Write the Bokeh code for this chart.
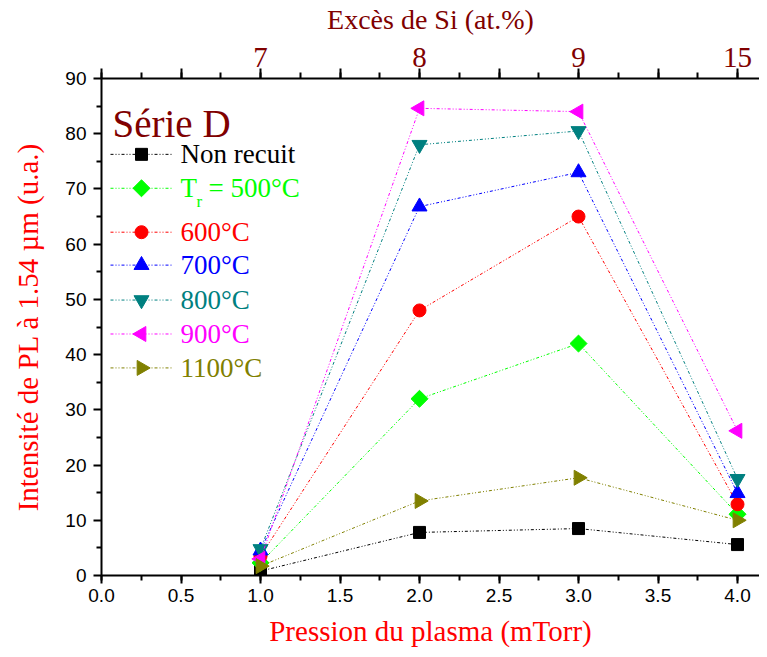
import math
from bokeh.plotting import figure
from bokeh.models import LinearAxis, FixedTicker, PrintfTickFormatter, Label, Range1d
from bokeh.embed import file_html
from bokeh.resources import INLINE

# ---- data ----
pression = [1.0, 2.0, 3.0, 4.0]
exces_si_labels = ["7", "8", "9", "15"]
non_recuit = [0.8, 7.8, 8.5, 5.6]
tr_500 = [2.3, 32.0, 42.0, 11.1]
tr_600 = [3.5, 48.0, 65.0, 12.9]
tr_700 = [4.5, 66.8, 73.0, 14.9]
tr_800 = [4.8, 78.0, 80.5, 17.5]
tr_900 = [3.0, 84.6, 84.0, 26.2]
tr_1100 = [1.7, 13.5, 17.7, 10.0]

series = [
    ("Non recuit", non_recuit, "#000000", "square", 0.0, 12),
    ("500", tr_500, "#00FF00", "square", math.pi / 4, 12),
    ("600°C", tr_600, "#FF0000", "circle", 0.0, 13),
    ("700°C", tr_700, "#0000FF", "triangle", 0.0, 15),
    ("800°C", tr_800, "#008080", "inverted_triangle", 0.0, 15),
    ("900°C", tr_900, "#FF00FF", "triangle", math.pi / 2, 15),
    ("1100°C", tr_1100, "#808000", "triangle", -math.pi / 2, 15),
]

# ---- layout ----
W, H = 759, 649
FL, FT = 101, 77
FB = H - 575
FR = 0
frame_w = W - FL - FR
frame_h = H - FT - FB
PX_PER_X = 159.0
X_END = frame_w / PX_PER_X
Y_END = 90.0
PX_PER_Y = frame_h / Y_END

def dx(px):
    return (px - FL) / PX_PER_X

def dy(py):
    return (H - FB - py) / PX_PER_Y

SERIF = "Liberation Serif"
SANS = "Liberation Sans"
DARKRED = "#800000"

p = figure(width=W, height=H, output_backend="svg", toolbar_location=None,
           x_range=Range1d(0, X_END), y_range=Range1d(0, Y_END),
           min_border_left=FL, min_border_top=FT, min_border_bottom=FB, min_border_right=FR)
p.outline_line_color = None
p.xgrid.visible = False
p.ygrid.visible = False
p.background_fill_color = "white"
p.border_fill_color = "white"

DASH = "3 2 1 2 1 2"

for name, vals, col, mk, ang, sz in series:
    p.line(pression, vals, line_color=col, line_width=1, line_dash=DASH)
    p.scatter(pression, vals, marker=mk, angle=ang, size=sz, fill_color=col, line_color=col)

# bottom axis
xa = p.xaxis[0]
xa.ticker = FixedTicker(ticks=[i * 0.5 for i in range(9)], minor_ticks=[i * 0.25 for i in range(17)])
xa.formatter = PrintfTickFormatter(format="%.1f")
xa.axis_label = "Pression du plasma (mTorr)"
# left axis
ya = p.yaxis[0]
ya.ticker = FixedTicker(ticks=list(range(0, 91, 10)), minor_ticks=list(range(5, 90, 10)))
ya.axis_label = "Intensité de PL à 1.54 µm (u.a.)"

for ax in (xa, ya):
    ax.axis_line_width = 2
    ax.major_tick_line_width = 2
    ax.minor_tick_line_width = 2
    ax.major_tick_in = 0
    ax.minor_tick_in = 0
    ax.major_tick_out = 8
    ax.minor_tick_out = 5
    ax.major_label_text_font = SANS
    ax.major_label_text_font_size = "19px"
    ax.major_label_text_color = "black"
    ax.axis_label_text_font = SERIF
    ax.axis_label_text_font_size = "29px"
    ax.axis_label_text_font_style = "normal"
    ax.axis_label_text_color = "#FF0000"
xa.major_label_standoff = 5
xa.axis_label_standoff = 10
ya.major_label_standoff = 7
ya.axis_label_standoff = 18

# top axis (Excès de Si)
overrides = {}
for i in range(9):
    overrides[i * 0.5] = ""
for xv, lab in zip(pression, exces_si_labels):
    overrides[xv] = lab
top = LinearAxis(ticker=FixedTicker(ticks=[i * 0.5 for i in range(9)],
                                    minor_ticks=[i * 0.25 for i in range(17)]),
                 major_label_overrides=overrides)
top.axis_label = "Excès de Si (at.%)"
top.axis_line_width = 2
top.major_tick_line_width = 2
top.minor_tick_line_width = 2
top.major_tick_in = 0
top.minor_tick_in = 0
top.major_tick_out = 10
top.minor_tick_out = 6
top.major_label_text_font = SERIF
top.major_label_text_font_size = "29px"
top.major_label_text_color = DARKRED
top.major_label_standoff = 2
top.axis_label_text_font = SERIF
top.axis_label_text_font_size = "28px"
top.axis_label_text_font_style = "normal"
top.axis_label_text_color = DARKRED
top.axis_label_standoff = 10
p.add_layout(top, "above")

# ---- manual legend ----
p.add_layout(Label(x=dx(112), y=dy(122), text="Série D", text_font=SERIF,
                   text_font_size="39px", text_color=DARKRED, text_baseline="alphabetic"))
rows = [153, 187, 231, 264, 299, 333, 367]
for (name, vals, col, mk, ang, sz), ry in zip(series, rows):
    p.line([dx(110), dx(173)], [dy(ry), dy(ry)], line_color=col, line_width=1, line_dash=DASH)
    p.scatter([dx(141)], [dy(ry)], marker=mk, angle=ang, size=sz, fill_color=col, line_color=col)
    if name == "500":
        p.add_layout(Label(x=dx(180), y=dy(ry), text="T", text_font=SERIF, text_font_size="27px",
                           text_color=col, text_baseline="middle"))
        p.add_layout(Label(x=dx(196), y=dy(ry + 13), text="r", text_font=SERIF, text_font_size="17px",
                           text_color=col, text_baseline="middle"))
        p.add_layout(Label(x=dx(208), y=dy(ry), text="= 500°C", text_font=SERIF, text_font_size="27px",
                           text_color=col, text_baseline="middle"))
    else:
        p.add_layout(Label(x=dx(180), y=dy(ry), text=name, text_font=SERIF, text_font_size="27px",
                           text_color=col, text_baseline="middle"))

open("out.html", "w").write(file_html(p, INLINE))
